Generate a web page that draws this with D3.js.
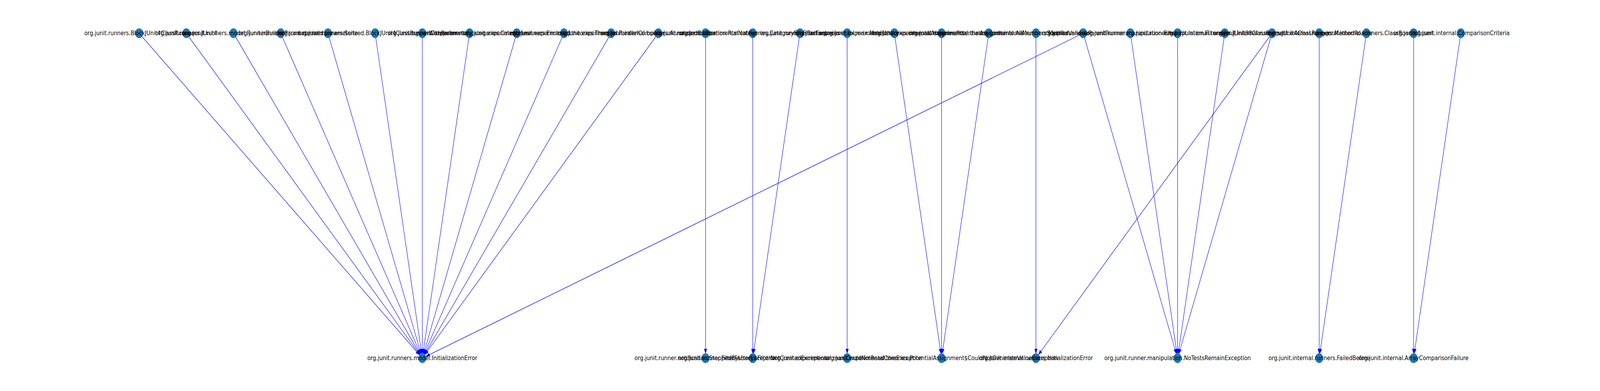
<!DOCTYPE html>
<html>
<head>
<meta charset="utf-8">
<script src="https://cdn.jsdelivr.net/npm/d3@7"></script>
<style>
  html, body { margin: 0; background: #fff; overflow: hidden; }
  svg { display: block; }
  text { font-family: "DejaVu Sans", sans-serif; }
</style>
</head>
<body>
<svg></svg>
<script>
// nodes that throw (top row), in order
var sources = [
  "org.junit.runners.BlockJUnit4ClassRunner",
  "org.junit.runners.JUnit4",
  "org.junit.runners.model.RunnerBuilder",
  "org.junit.runners.Parameterized",
  "org.junit.runners.Suite",
  "org.junit.runners.parameterized.BlockJUnit4ClassRunnerWithParameters",
  "org.junit.runner.Computer",
  "org.junit.experimental.categories.Categories",
  "org.junit.experimental.runners.Enclosed",
  "org.junit.experimental.theories.Theories",
  "org.junit.experimental.ParallelComputer",
  "org.junit.internal.builders.AnnotatedBuilder",
  "org.junit.runner.notification.RunNotifier",
  "org.junit.experimental.categories.CategoryFilterFactory",
  "org.junit.runner.FilterFactories",
  "org.junit.experimental.max.MaxHistory",
  "org.junit.experimental.theories.internal.Assignments",
  "org.junit.experimental.theories.PotentialAssignment",
  "org.junit.experimental.theories.internal.AllMembersSupplier",
  "org.junit.internal.runners.MethodValidator",
  "org.junit.runners.ParentRunner",
  "org.junit.runner.manipulation.Filter",
  "org.junit.runner.manipulation.Filterable",
  "org.junit.internal.runners.JUnit38ClassRunner",
  "org.junit.internal.runners.JUnit4ClassRunner",
  "org.junit.internal.runners.MethodRoadie",
  "org.junit.internal.runners.ClassRoadie",
  "org.junit.Assert",
  "org.junit.internal.ComparisonCriteria"
];

// exceptions (bottom row)
var exceptions = [
  "org.junit.runners.model.InitializationError",
  "org.junit.runner.notification.StoppedByUserException",
  "org.junit.runner.FilterFactory$FilterNotCreatedException",
  "org.junit.experimental.max.CouldNotReadCoreException",
  "org.junit.experimental.theories.PotentialAssignment$CouldNotGenerateValueException",
  "org.junit.internal.runners.InitializationError",
  "org.junit.runner.manipulation.NoTestsRemainException",
  "org.junit.internal.runners.FailedBefore",
  "org.junit.internal.ArrayComparisonFailure"
];

// edges: source -> exception
var edgeFrom = [
  "org.junit.runners.BlockJUnit4ClassRunner",
  "org.junit.runners.JUnit4",
  "org.junit.runners.model.RunnerBuilder",
  "org.junit.runners.Parameterized",
  "org.junit.runners.Suite",
  "org.junit.runners.parameterized.BlockJUnit4ClassRunnerWithParameters",
  "org.junit.runner.Computer",
  "org.junit.experimental.categories.Categories",
  "org.junit.experimental.runners.Enclosed",
  "org.junit.experimental.theories.Theories",
  "org.junit.experimental.ParallelComputer",
  "org.junit.internal.builders.AnnotatedBuilder",
  "org.junit.runners.ParentRunner",
  "org.junit.runner.notification.RunNotifier",
  "org.junit.experimental.categories.CategoryFilterFactory",
  "org.junit.runner.FilterFactories",
  "org.junit.experimental.max.MaxHistory",
  "org.junit.experimental.theories.internal.Assignments",
  "org.junit.experimental.theories.PotentialAssignment",
  "org.junit.experimental.theories.internal.AllMembersSupplier",
  "org.junit.internal.runners.MethodValidator",
  "org.junit.internal.runners.JUnit4ClassRunner",
  "org.junit.runners.ParentRunner",
  "org.junit.runner.manipulation.Filter",
  "org.junit.runner.manipulation.Filterable",
  "org.junit.internal.runners.JUnit38ClassRunner",
  "org.junit.internal.runners.JUnit4ClassRunner",
  "org.junit.internal.runners.MethodRoadie",
  "org.junit.internal.runners.ClassRoadie",
  "org.junit.Assert",
  "org.junit.internal.ComparisonCriteria"
];
var edgeTo = [
  "org.junit.runners.model.InitializationError",
  "org.junit.runners.model.InitializationError",
  "org.junit.runners.model.InitializationError",
  "org.junit.runners.model.InitializationError",
  "org.junit.runners.model.InitializationError",
  "org.junit.runners.model.InitializationError",
  "org.junit.runners.model.InitializationError",
  "org.junit.runners.model.InitializationError",
  "org.junit.runners.model.InitializationError",
  "org.junit.runners.model.InitializationError",
  "org.junit.runners.model.InitializationError",
  "org.junit.runners.model.InitializationError",
  "org.junit.runners.model.InitializationError",
  "org.junit.runner.notification.StoppedByUserException",
  "org.junit.runner.FilterFactory$FilterNotCreatedException",
  "org.junit.runner.FilterFactory$FilterNotCreatedException",
  "org.junit.experimental.max.CouldNotReadCoreException",
  "org.junit.experimental.theories.PotentialAssignment$CouldNotGenerateValueException",
  "org.junit.experimental.theories.PotentialAssignment$CouldNotGenerateValueException",
  "org.junit.experimental.theories.PotentialAssignment$CouldNotGenerateValueException",
  "org.junit.internal.runners.InitializationError",
  "org.junit.internal.runners.InitializationError",
  "org.junit.runner.manipulation.NoTestsRemainException",
  "org.junit.runner.manipulation.NoTestsRemainException",
  "org.junit.runner.manipulation.NoTestsRemainException",
  "org.junit.runner.manipulation.NoTestsRemainException",
  "org.junit.runner.manipulation.NoTestsRemainException",
  "org.junit.internal.runners.FailedBefore",
  "org.junit.internal.runners.FailedBefore",
  "org.junit.internal.ArrayComparisonFailure",
  "org.junit.internal.ArrayComparisonFailure"
];

// drawing is laid out on a 5000x1000 canvas and fitted to the window
var width = 5000, height = 1000;
var r = 12.5;

var svg = d3.select("svg")
    .attr("viewBox", "0 0 " + width + " " + height)
    .attr("preserveAspectRatio", "none")
    .attr("width", window.innerWidth)
    .attr("height", window.innerHeight);

var x = d3.scalePoint()
    .domain(d3.range(sources.length))
    .range([434.7, 4565]);

var y = d3.scalePoint()
    .domain(["top", "bottom"])
    .range([85, 916]);

// positions: top nodes by order, each exception under the lower median of its sources
var pos = {};
sources.forEach(function (s, i) {
  pos[s] = { x: x(i), y: y("top") };
});
exceptions.forEach(function (e) {
  var idx = edgeFrom.filter(function (f, k) { return edgeTo[k] === e; })
    .map(function (f) { return sources.indexOf(f); })
    .sort(d3.ascending);
  pos[e] = { x: x(idx[Math.floor((idx.length - 1) / 2)]), y: y("bottom") };
});

var edges = edgeFrom.map(function (f, k) { return { source: f, target: edgeTo[k] }; });

// edges with arrow heads drawn as paths
var g = svg.append("g");
edges.forEach(function (d) {
  var a = pos[d.source], b = pos[d.target];
  var dx = b.x - a.x, dy = b.y - a.y;
  var len = Math.sqrt(dx * dx + dy * dy);
  var ux = dx / len, uy = dy / len;
  var tipX = b.x - ux * r, tipY = b.y - uy * r;
  var headL = 11, headW = 4;
  var baseX = tipX - ux * headL, baseY = tipY - uy * headL;
  g.append("line")
    .attr("x1", a.x).attr("y1", a.y)
    .attr("x2", baseX).attr("y2", baseY)
    .attr("stroke", "#0000ff")
    .attr("stroke-width", 1.3);
  g.append("path")
    .attr("d", d3.line()([
      [tipX, tipY],
      [baseX - uy * headW, baseY + ux * headW],
      [baseX + uy * headW, baseY - ux * headW]
    ]) + "Z")
    .attr("fill", "#0000ff")
    .attr("stroke", "#0000ff")
    .attr("stroke-width", 1);
});

var allNodes = sources.concat(exceptions);

svg.append("g").selectAll("circle")
    .data(allNodes)
    .enter()
    .append("circle")
    .attr("cx", function (d) { return pos[d].x; })
    .attr("cy", function (d) { return pos[d].y; })
    .attr("r", r)
    .attr("fill", "#1f77b4");

svg.append("g").selectAll("text")
    .data(allNodes)
    .enter()
    .append("text")
    .attr("x", function (d) { return pos[d].x; })
    .attr("y", function (d) { return pos[d].y; })
    .attr("text-anchor", "middle")
    .attr("dominant-baseline", "central")
    .attr("font-size", "16.67px")
    .attr("fill", "#000")
    .text(function (d) { return d; });
</script>
</body>
</html>
